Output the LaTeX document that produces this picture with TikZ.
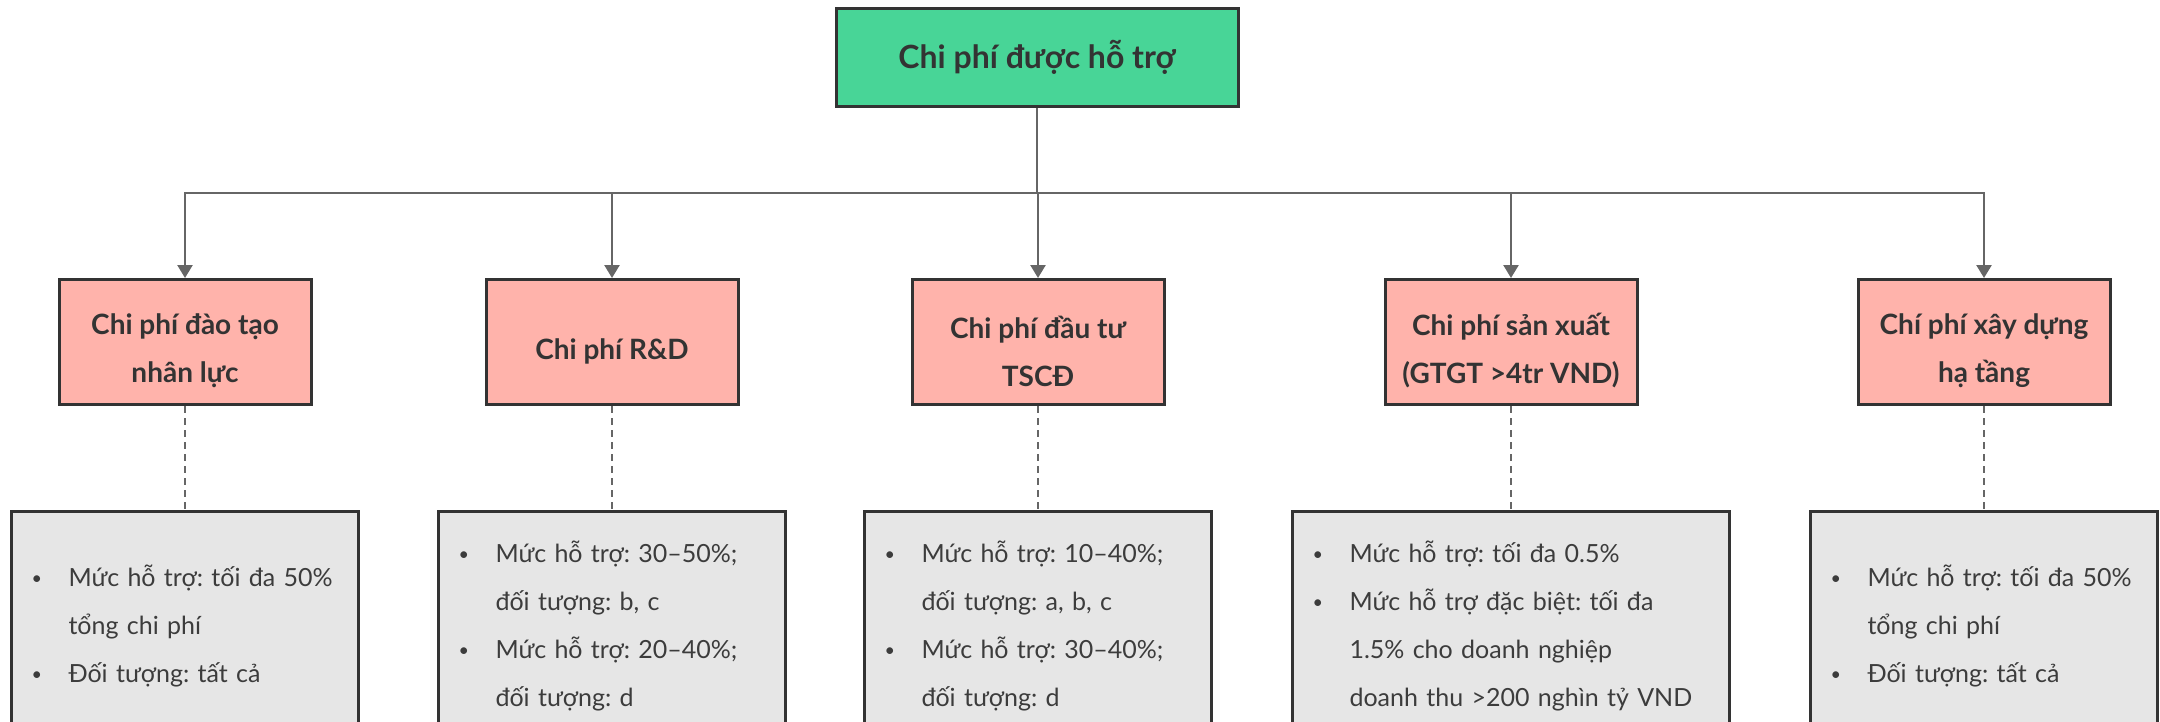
\documentclass[tikz,border=0pt]{standalone}
\usepackage{fontspec}
\setmainfont{Lato}
\usetikzlibrary{arrows.meta}
\definecolor{topgreen}{HTML}{48D597}
\definecolor{pinkbox}{HTML}{FFB3AB}
\definecolor{greybox}{HTML}{E6E6E6}
\definecolor{edgec}{HTML}{333333}
\definecolor{connc}{HTML}{666666}
\definecolor{txtc}{HTML}{333333}
\definecolor{bodyc}{HTML}{3C3C3C}
\newcommand{\bul}{\makebox[33pt][l]{\hspace*{-4pt}\raisebox{1.5pt}{\scalebox{0.72}{\textbullet}}}}
\newcommand{\ind}{\hspace*{33pt}}
\frenchspacing
\begin{document}
\frenchspacing
\begin{tikzpicture}[x=1pt,y=-1pt,
  topbox/.style={draw=edgec, line width=3pt, fill=topgreen, minimum width=402pt, minimum height=98pt, inner sep=0pt, font=\fontsize{32}{38}\selectfont\bfseries, text=txtc},
  midbox/.style={draw=edgec, line width=3pt, fill=pinkbox, minimum width=252pt, minimum height=125pt, inner sep=0pt},
  midtext/.style={inner sep=0pt, align=center, font=\fontsize{28}{48}\selectfont\bfseries, text=txtc, yshift=-9pt},
  detbox/.style={draw=edgec, line width=3pt, fill=greybox, minimum height=228pt, inner xsep=24pt, inner ysep=0pt, align=left, font=\fontsize{25}{48}\selectfont\frenchspacing, text=bodyc, anchor=north},
  arrowline/.style={draw=connc, line width=2.5pt, -{Triangle[width=15pt,length=13pt]}},
  busline/.style={draw=connc, line width=2.5pt},
  dashline/.style={draw=connc, line width=1.5pt, dash pattern=on 7pt off 5pt}
]
\useasboundingbox (0,0) rectangle (2160,721);
\clip (0,0) rectangle (2160,721);

\node[topbox] (top) at (1037,57) {Chi phí được hỗ trợ};

\node[midbox] (m1) at (185,342) {};
\node[midbox] (m2) at (612,342) {};
\node[midbox] (m3) at (1038,342) {};
\node[midbox] (m4) at (1511,342) {};
\node[midbox] (m5) at (1984,342) {};
\node[midtext] (m1t) at (m1.center) {Chi phí đào tạo\\nhân lực};
\node[midtext] (m2t) at (m2.center) {Chi phí R\&D};
\node[midtext] (m3t) at (m3.center) {Chi phí đầu tư\\TSCĐ};
\node[midtext] (m4t) at (m4.center) {Chi phí sản xuất\\(GTGT >4tr VND)};
\node[midtext] (m5t) at (m5.center) {Chí phí xây dựng\\hạ tầng};

\node[detbox, text width=299pt] (d1) at (185,510) {\bul Mức hỗ trợ: tối đa 50\%\\\ind tổng chi phí\\\bul Đối tượng: tất cả};
\node[detbox, text width=299pt] (d2) at (612,510) {\bul Mức hỗ trợ: 30–50\%;\\\ind đối tượng: b, c\\\bul Mức hỗ trợ: 20–40\%;\\\ind đối tượng: d};
\node[detbox, text width=299pt] (d3) at (1038,510) {\bul Mức hỗ trợ: 10–40\%;\\\ind đối tượng: a, b, c\\\bul Mức hỗ trợ: 30–40\%;\\\ind đối tượng: d};
\node[detbox, text width=389pt] (d4) at (1511,510) {\bul Mức hỗ trợ: tối đa 0.5\%\\\bul Mức hỗ trợ đặc biệt: tối đa\\\ind 1.5\% cho doanh nghiệp\\\ind doanh thu >200 nghìn tỷ VND};
\node[detbox, text width=299pt] (d5) at (1984,510) {\bul Mức hỗ trợ: tối đa 50\%\\\ind tổng chi phí\\\bul Đối tượng: tất cả};

\coordinate (bus) at (1037,193);
\draw[busline] (top.south) -- (top.south |- bus);
\foreach \n in {m1,m2,m3,m4,m5}{
  \draw[arrowline] (top.south |- bus) -| (\n.north);
}
\foreach \n in {1,2,3,4,5}{
  \draw[dashline] (m\n.south) -- (d\n.north);
}
\end{tikzpicture}
\end{document}
